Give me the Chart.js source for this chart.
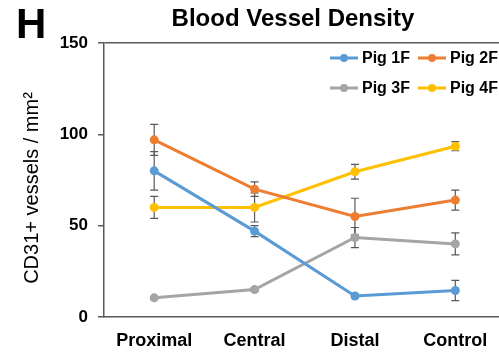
<!DOCTYPE html>
<html>
<head>
<meta charset="utf-8">
<script src="https://cdn.jsdelivr.net/npm/chart.js@4.4.1/dist/chart.umd.min.js"></script>
<style>
  html, body { margin: 0; padding: 0; background: #fff; overflow: hidden; }
  #wrap { width: 499px; height: 355px; overflow: hidden; position: relative; }
  canvas { display: block; }
</style>
</head>
<body>
<div id="wrap"><canvas id="c" width="510" height="355"></canvas></div>
<script>
// Blood vessel density per site, mean ± error
const categories = ['Proximal', 'Central', 'Distal', 'Control'];
const seriesNames = ['Pig 1F', 'Pig 2F', 'Pig 3F', 'Pig 4F'];
const pig1F = [80, 47, 11.5, 14.5];
const pig2F = [97, 70, 55, 64];
const pig3F = [10.5, 15, 43.5, 40];
const pig4F = [60, 60, 79.5, 93.5];
const pig1FErr = [10.5, 3, 1, 5.5];
const pig2FErr = [8.5, 4, 10, 5.5];
const pig3FErr = [0.5, 1, 5.5, 6];
const pig4FErr = [6, 8, 4, 2.5];
const yTicks = [0, 50, 100, 150];
const yTitle = 'CD31+ vessels / mm²';

const colors = ['#5B9BD5', '#ED7D31', '#A5A5A5', '#FFC000'];
const values = [pig1F, pig2F, pig3F, pig4F];
const errors = [pig1FErr, pig2FErr, pig3FErr, pig4FErr];
const FONT = '"Liberation Sans", Arial, sans-serif';
const AXIS = '#595959';

const datasets = seriesNames.map((name, i) => ({
  label: name,
  data: values[i],
  errors: errors[i],
  borderColor: colors[i],
  backgroundColor: colors[i],
  borderWidth: 3,
  pointRadius: 4.5,
  pointHoverRadius: 4.5,
  pointBorderWidth: 0,
  tension: 0
}));

// Vertical error bars with caps, drawn underneath the lines
const errorBars = {
  id: 'errorBars',
  beforeDatasetsDraw(chart) {
    const ctx = chart.ctx;
    const y = chart.scales.y;
    ctx.save();
    ctx.strokeStyle = AXIS;
    ctx.lineWidth = 1.2;
    chart.data.datasets.forEach((ds, di) => {
      const meta = chart.getDatasetMeta(di);
      meta.data.forEach((pt, j) => {
        const e = ds.errors[j];
        if (!e) return;
        const top = y.getPixelForValue(ds.data[j] + e);
        const bot = y.getPixelForValue(ds.data[j] - e);
        const x = pt.x;
        ctx.beginPath();
        ctx.moveTo(x, top); ctx.lineTo(x, bot);
        ctx.moveTo(x - 4, top); ctx.lineTo(x + 4, top);
        ctx.moveTo(x - 4, bot); ctx.lineTo(x + 4, bot);
        ctx.stroke();
      });
    });
    ctx.restore();
  }
};

// Panel letter, title, y-axis title and in-plot legend
const decorations = {
  id: 'decorations',
  afterDraw(chart) {
    const ctx = chart.ctx;
    ctx.save();
    ctx.fillStyle = '#000';
    ctx.textBaseline = 'middle';
    ctx.textAlign = 'left';
    ctx.font = 'bold 42px ' + FONT;
    ctx.fillText('H', 16, 26);
    ctx.textAlign = 'center';
    ctx.font = 'bold 24px ' + FONT;
    ctx.fillText('Blood Vessel Density', 293, 19);

    ctx.save();
    ctx.translate(32, 188);
    ctx.rotate(-Math.PI / 2);
    ctx.font = '20px ' + FONT;
    ctx.fillText(yTitle, 0, 0);
    ctx.restore();

    const cols = [330, 418];
    const rows = [58, 88];
    ctx.font = 'bold 16px ' + FONT;
    ctx.textAlign = 'left';
    chart.data.datasets.forEach((ds, i) => {
      const x = cols[i % 2];
      const yy = rows[Math.floor(i / 2)];
      ctx.strokeStyle = ds.borderColor;
      ctx.lineWidth = 3;
      ctx.beginPath();
      ctx.moveTo(x, yy); ctx.lineTo(x + 28, yy);
      ctx.stroke();
      ctx.fillStyle = ds.borderColor;
      ctx.beginPath();
      ctx.arc(x + 14, yy, 4, 0, Math.PI * 2);
      ctx.fill();
      ctx.fillStyle = '#000';
      ctx.fillText(ds.label, x + 32, yy + 1);
    });
    ctx.restore();
  }
};

new Chart(document.getElementById('c'), {
  type: 'line',
  data: { labels: categories, datasets },
  plugins: [errorBars, decorations],
  options: {
    responsive: false,
    animation: false,
    devicePixelRatio: 1,
    layout: { padding: { top: 43, left: 0, right: 2, bottom: 0 } },
    plugins: { legend: { display: false }, tooltip: { enabled: false }, title: { display: false } },
    scales: {
      x: {
        offset: true,
        grid: { display: false },
        border: { display: true, color: AXIS, width: 1.5 },
        ticks: { color: '#000', font: { family: FONT, size: 18, weight: 'bold' }, padding: 5 },
        afterFit(s) { s.height = 38; }
      },
      y: {
        min: 0, max: 150,
        afterBuildTicks(s) { s.ticks = yTicks.map(v => ({ value: v })); },
        grid: {
          color: c => (c.tick && c.tick.value === 150 ? AXIS : 'rgba(0,0,0,0)'),
          tickColor: AXIS,
          tickLength: 6,
          lineWidth: 1.5
        },
        border: { display: true, color: AXIS, width: 1.5 },
        ticks: { color: '#000', font: { family: FONT, size: 17, weight: 'bold' }, padding: 10 },
        afterFit(s) { s.width = 104; }
      }
    }
  }
});
</script>
</body>
</html>
